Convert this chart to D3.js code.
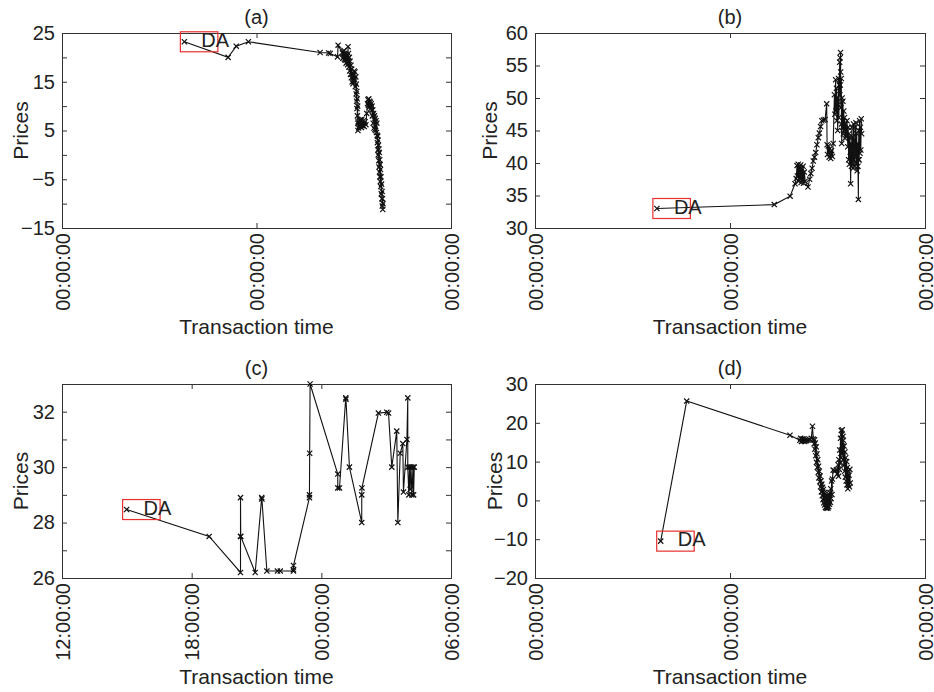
<!DOCTYPE html>
<html>
<head>
<meta charset="utf-8">
<script src="https://cdn.jsdelivr.net/npm/d3@7"></script>
<style>
  body { margin: 0; background: #fff; }
  svg { display: block; font-family: 'Liberation Sans', Arial, sans-serif; }
</style>
</head>
<body>
<svg id="chart" width="934" height="692"></svg>
<script>
// hours after the start of each window, and the traded price at that time
const aHours = [15.1, 20.5, 21.5, 23.0, 31.85, 32.9, 33.1, 34.0, 34.07, 34.6, 34.65, 34.7, 34.75, 34.8, 34.85, 34.9, 34.95, 35.0, 35.05, 35.1, 35.15, 35.2, 35.25, 35.3, 35.32, 35.35, 35.4, 35.45, 35.5, 35.55, 35.6, 35.65, 35.7, 35.75, 35.8, 35.85, 35.9, 35.95, 36.0, 36.05, 36.1, 36.15, 36.2, 36.25, 36.3, 36.32, 36.35, 36.38, 36.4, 36.42, 36.45, 36.48, 36.5, 36.52, 36.55, 36.6, 36.7, 36.75, 36.8, 36.85, 36.9, 36.95, 37.0, 37.1, 37.2, 37.3, 37.4, 37.5, 37.6, 37.7, 37.75, 37.8, 37.85, 37.9, 37.95, 38.0, 38.05, 38.1, 38.15, 38.2, 38.25, 38.3, 38.35, 38.4, 38.45, 38.5, 38.55, 38.6, 38.65, 38.7, 38.75, 38.8, 38.85, 38.9, 38.92, 38.95, 38.98, 39.0, 39.02, 39.05, 39.08, 39.1, 39.12, 39.15, 39.18, 39.2, 39.22, 39.25, 39.28, 39.3, 39.33, 39.36, 39.4, 39.43, 39.46, 39.5, 39.52, 39.55, 39.58, 39.6]
const aPrices = [23.2, 20.0, 22.3, 23.2, 21.0, 20.9, 20.8, 20.1, 22.5, 20.9, 19.8, 21.2, 20.0, 21.4, 19.6, 20.8, 19.4, 20.6, 18.8, 20.2, 19.0, 20.4, 18.5, 22.2, 19.2, 20.8, 18.0, 20.0, 17.2, 19.2, 16.5, 18.4, 15.8, 17.6, 15.0, 16.8, 14.6, 16.4, 15.0, 17.2, 15.5, 17.0, 14.0, 16.0, 12.5, 14.5, 11.0, 13.0, 9.5, 11.5, 8.0, 10.0, 6.5, 5.0, 6.8, 5.5, 7.0, 5.8, 7.2, 6.0, 7.0, 5.6, 7.3, 6.0, 7.0, 5.8, 6.8, 6.2, 8.5, 10.5, 11.3, 10.2, 11.5, 9.8, 11.0, 10.0, 10.8, 9.5, 10.5, 9.2, 10.0, 8.0, 9.2, 6.5, 8.5, 5.5, 8.0, 5.2, 7.5, 5.0, 7.0, 4.6, 6.5, 4.0, 2.5, 3.8, 1.0, 3.0, 0.0, 2.0, -1.2, 1.2, -2.5, 0.5, -3.5, -1.0, -4.5, -2.0, -5.5, -3.0, -6.5, -4.5, -8.0, -6.0, -9.0, -7.5, -10.5, -9.0, -11.2, -10.0]

const bHours = [15.0, 29.45, 31.4, 32.0, 32.15, 32.25, 32.3, 32.4, 32.45, 32.55, 32.6, 32.7, 32.75, 32.85, 32.9, 33.0, 33.05, 33.15, 33.25, 33.6, 33.8, 33.95, 34.1, 34.25, 34.4, 34.55, 34.7, 34.87, 35.0, 35.15, 35.3, 35.5, 35.7, 35.9, 35.95, 36.0, 36.1, 36.2, 36.3, 36.4, 36.5, 36.6, 36.7, 36.85, 36.9, 37.0, 37.05, 37.1, 37.15, 37.2, 37.25, 37.3, 37.35, 37.4, 37.45, 37.5, 37.52, 37.55, 37.58, 37.6, 37.62, 37.65, 37.7, 37.72, 37.75, 37.8, 37.85, 37.9, 37.95, 38.0, 38.05, 38.1, 38.15, 38.2, 38.3, 38.4, 38.5, 38.55, 38.6, 38.65, 38.7, 38.75, 38.8, 38.85, 38.9, 38.95, 39.0, 39.05, 39.1, 39.15, 39.2, 39.25, 39.3, 39.35, 39.4, 39.45, 39.5, 39.55, 39.6, 39.65, 39.7, 39.75, 39.8, 39.82, 39.85, 39.9, 39.95, 40.0, 40.05, 40.1, 40.15, 40.2]
const bPrices = [33.0, 33.6, 34.9, 36.8, 37.6, 39.6, 38.0, 39.8, 37.2, 39.3, 37.6, 39.7, 37.0, 39.2, 37.4, 39.5, 36.9, 38.6, 37.2, 36.3, 37.5, 38.4, 39.2, 40.3, 40.9, 41.6, 42.8, 43.9, 44.6, 45.6, 46.5, 46.6, 46.7, 49.1, 42.8, 41.3, 42.6, 40.9, 42.2, 40.7, 41.9, 41.0, 43.0, 50.5, 47.5, 52.8, 48.0, 51.5, 46.5, 50.0, 45.0, 49.0, 53.0, 47.0, 52.0, 55.5, 50.5, 56.2, 52.0, 57.0, 54.0, 48.5, 53.0, 46.0, 43.0, 50.0, 45.5, 49.5, 44.5, 48.0, 45.0, 47.0, 43.8, 46.0, 44.0, 46.5, 42.5, 45.5, 40.5, 44.5, 39.8, 44.0, 41.0, 36.8, 43.0, 39.5, 45.5, 40.0, 44.0, 39.2, 46.0, 40.5, 43.5, 39.5, 45.5, 41.0, 46.2, 40.0, 44.5, 38.8, 43.0, 39.5, 34.4, 40.5, 45.0, 40.5, 46.5, 41.5, 45.5, 42.0, 46.8, 44.5]

// panel (c) starts at 12:00:00
const cHours = [2.99, 6.81, 8.26, 8.26, 8.26, 8.27, 8.94, 9.24, 9.25, 9.48, 9.97, 10.1, 10.71, 10.71, 10.71, 11.45, 11.45, 11.46, 11.48, 12.76, 12.76, 12.84, 13.13, 13.14, 13.3, 13.87, 13.87, 13.88, 14.64, 15.03, 15.11, 15.26, 15.49, 15.54, 15.65, 15.77, 15.8, 15.96, 16.0, 16.0, 16.05, 16.08, 16.11, 16.15, 16.19, 16.24, 16.27, 16.3]
const cPrices = [28.47, 27.5, 26.2, 27.5, 28.9, 27.5, 26.2, 28.9, 28.85, 26.25, 26.25, 26.25, 26.25, 26.3, 26.45, 28.9, 29.0, 30.5, 33.0, 29.75, 29.25, 29.25, 32.5, 32.45, 30.0, 28.0, 29.0, 29.25, 31.95, 31.98, 31.95, 30.0, 31.3, 28.0, 30.5, 30.85, 29.1, 31.0, 32.5, 30.0, 29.0, 30.0, 29.2, 30.0, 29.0, 30.0, 29.0, 30.0]

const dHours = [15.47, 18.67, 31.38, 32.6, 32.7, 32.8, 32.9, 33.0, 33.1, 33.2, 33.3, 33.4, 33.6, 33.8, 34.0, 34.15, 34.25, 34.35, 34.4, 34.45, 34.5, 34.55, 34.6, 34.65, 34.7, 34.75, 34.8, 34.85, 34.9, 34.95, 35.0, 35.05, 35.1, 35.15, 35.2, 35.25, 35.3, 35.35, 35.4, 35.45, 35.5, 35.55, 35.6, 35.65, 35.7, 35.75, 35.8, 35.85, 35.9, 35.95, 36.0, 36.05, 36.1, 36.15, 36.2, 36.25, 36.3, 36.35, 36.4, 36.45, 36.5, 36.55, 36.6, 36.7, 36.9, 37.1, 37.2, 37.3, 37.35, 37.4, 37.45, 37.5, 37.55, 37.6, 37.65, 37.7, 37.72, 37.75, 37.8, 37.82, 37.85, 37.9, 37.92, 37.95, 38.0, 38.05, 38.1, 38.15, 38.2, 38.25, 38.3, 38.35, 38.4, 38.45, 38.5, 38.55, 38.6, 38.65, 38.7, 38.75, 38.8]
const dPrices = [-10.5, 25.6, 16.8, 15.5, 16.0, 15.2, 15.8, 15.3, 15.9, 15.2, 15.7, 15.4, 15.5, 15.6, 16.0, 19.1, 15.8, 14.6, 15.6, 13.2, 14.8, 11.5, 13.8, 9.8, 12.0, 8.5, 10.5, 7.2, 8.8, 5.8, 7.5, 4.8, 6.3, 3.5, 5.0, 2.2, 4.2, 1.2, 3.4, 0.2, 2.8, -0.6, 2.0, -1.2, 1.6, -1.8, 1.0, -2.0, 0.6, -1.5, 1.2, -2.0, 0.5, -1.6, 1.5, -1.0, 2.0, -0.5, 3.0, 0.5, 5.0, 1.5, 5.5, 7.8, 7.6, 7.9, 6.8, 9.2, 6.2, 10.5, 8.0, 13.0, 9.5, 16.0, 11.0, 18.0, 13.0, 17.0, 12.0, 18.2, 14.0, 16.5, 10.5, 15.5, 9.0, 14.0, 7.5, 12.5, 6.0, 11.0, 5.0, 10.0, 4.0, 8.5, 3.0, 7.5, 4.0, 6.5, 3.5, 8.0, 4.5]

// axis ticks
const dayTicks = [0, 24, 48]
const noonTicks = [0, 6, 12, 18]
const aYTicks = [-15, -10, -5, 0, 5, 10, 15, 20, 25]
const aYLabels = [-15, -5, 5, 15, 25]
const bYTicks = [30, 35, 40, 45, 50, 55, 60]
const cYTicks = [26, 27, 28, 29, 30, 31, 32, 33]
const cYLabels = [26, 28, 30, 32]
const dYTicks = [-20, -10, 0, 10, 20, 30]

const dayStart = new Date(2012, 0, 1, 0)
const noonStart = new Date(2012, 0, 1, 12)

const PANELS = [
  { title: '(a)', hours: aHours, prices: aPrices, start: dayStart, span: 48, xTicks: dayTicks,
    yDomain: [-15, 25], yTicks: aYTicks, yLabels: aYLabels,
    box: { left: 62, top: 33, right: 451, bottom: 228 }, ylabelGap: 34 },
  { title: '(b)', hours: bHours, prices: bPrices, start: dayStart, span: 48, xTicks: dayTicks,
    yDomain: [30, 60], yTicks: bYTicks, yLabels: bYTicks,
    box: { left: 535, top: 33, right: 925, bottom: 228 }, ylabelGap: 38 },
  { title: '(c)', hours: cHours, prices: cPrices, start: noonStart, span: 18, xTicks: noonTicks,
    yDomain: [26, 33], yTicks: cYTicks, yLabels: cYLabels,
    box: { left: 62, top: 384, right: 451, bottom: 578 }, ylabelGap: 34 },
  { title: '(d)', hours: dHours, prices: dPrices, start: dayStart, span: 48, xTicks: dayTicks,
    yDomain: [-20, 30], yTicks: dYTicks, yLabels: dYTicks,
    box: { left: 535, top: 384, right: 925, bottom: 578 }, ylabelGap: 33 }
]

const TEXT = '#222'
const AXIS = '#333'
const TICK_FONT = 20
const LABEL_FONT = 21

function hourDate(start, h) {
  return new Date(start.getTime() + h * 36e5)
}

function styleAxis(g) {
  g.attr('font-size', null).attr('font-family', null).attr('color', AXIS)
  g.select('.domain').remove()
  g.selectAll('text').attr('font-size', TICK_FONT).attr('fill', TEXT)
}

function drawPanel(svg, p) {
  const { left, top, right, bottom } = p.box
  const fmtTime = d3.timeFormat('%H:%M:%S')
  const fmtY = v => p.yLabels.includes(v) ? d3.format('d')(v) : ''

  const x = d3.scaleTime()
    .domain([p.start, hourDate(p.start, p.span)])
    .range([left, right])
  const y = d3.scaleLinear()
    .domain(p.yDomain)
    .range([bottom, top])

  const xTickDates = p.xTicks.map(h => hourDate(p.start, h))
  const g = svg.append('g')

  g.append('g')
    .attr('transform', 'translate(' + left + ',0)')
    .call(d3.axisLeft(y).tickValues(p.yTicks).tickFormat(fmtY).tickSizeInner(-5).tickSizeOuter(0).tickPadding(7))
    .call(styleAxis)
  g.append('g')
    .attr('transform', 'translate(' + right + ',0)')
    .call(d3.axisRight(y).tickValues(p.yTicks).tickFormat('').tickSizeInner(-5).tickSizeOuter(0))
    .call(styleAxis)
  g.append('g')
    .attr('transform', 'translate(0,' + top + ')')
    .call(d3.axisTop(x).tickValues(xTickDates).tickFormat('').tickSizeInner(-5).tickSizeOuter(0))
    .call(styleAxis)
  g.append('g')
    .attr('transform', 'translate(0,' + bottom + ')')
    .call(d3.axisBottom(x).tickValues(xTickDates).tickFormat(fmtTime).tickSizeInner(-5).tickSizeOuter(0))
    .call(styleAxis)
    .call(ax => ax.selectAll('text')
      .attr('x', -5)
      .attr('y', 0)
      .attr('dy', '0.35em')
      .attr('text-anchor', 'end')
      .attr('transform', 'rotate(-90)'))

  g.append('rect')
    .attr('x', left + 0.5)
    .attr('y', top + 0.5)
    .attr('width', right - left)
    .attr('height', bottom - top)
    .attr('fill', 'none')
    .attr('stroke', AXIS)
    .attr('stroke-width', 1)

  const points = p.hours.map((h, i) => ({ t: hourDate(p.start, h), v: p.prices[i] }))

  const line = d3.line()
    .x(d => x(d.t))
    .y(d => y(d.v))

  g.append('path')
    .datum(points)
    .attr('d', line)
    .attr('fill', 'none')
    .attr('stroke', '#111')
    .attr('stroke-width', 1.1)

  g.selectAll('.mark')
    .data(points)
    .join('path')
      .attr('class', 'mark')
      .attr('d', 'M-2.6,-2.6L2.6,2.6M-2.6,2.6L2.6,-2.6')
      .attr('transform', d => 'translate(' + x(d.t) + ',' + y(d.v) + ')')
      .attr('fill', 'none')
      .attr('stroke', '#111')
      .attr('stroke-width', 1.2)

  // DA label on the first trade
  const px = x(points[0].t)
  const py = y(points[0].v)
  g.append('rect')
    .attr('x', px - 4)
    .attr('y', py - 10)
    .attr('width', 37.5)
    .attr('height', 20)
    .attr('fill', 'none')
    .attr('stroke', '#e8312f')
    .attr('stroke-width', 1.2)
  g.append('text')
    .attr('x', px + 17)
    .attr('y', py + 5)
    .attr('font-size', TICK_FONT)
    .attr('fill', TEXT)
    .text('DA')

  g.append('text')
    .attr('x', (left + right) / 2)
    .attr('y', top - 9)
    .attr('text-anchor', 'middle')
    .attr('font-size', TICK_FONT)
    .attr('fill', TEXT)
    .text(p.title)

  g.append('text')
    .attr('x', (left + right) / 2)
    .attr('y', bottom + 106)
    .attr('text-anchor', 'middle')
    .attr('font-size', LABEL_FONT)
    .attr('fill', TEXT)
    .text('Transaction time')

  g.append('text')
    .attr('transform', 'translate(' + (left - p.ylabelGap) + ',' + (top + bottom) / 2 + ') rotate(-90)')
    .attr('text-anchor', 'middle')
    .attr('font-size', LABEL_FONT)
    .attr('fill', TEXT)
    .text('Prices')
}

const svg = d3.select('#chart')
PANELS.forEach(p => drawPanel(svg, p))
</script>
</body>
</html>
